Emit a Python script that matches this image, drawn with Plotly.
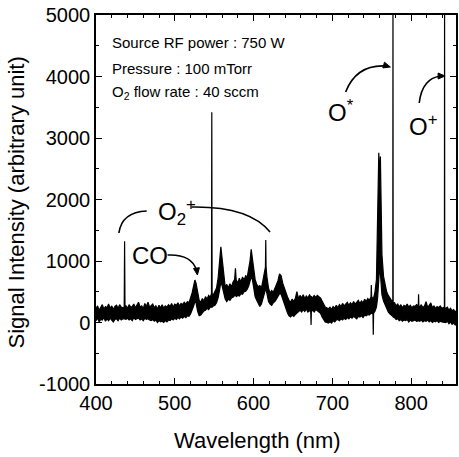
import math
import plotly.graph_objects as go

# ---- data ----
wavelength = (
    [400, 402, 404, 406, 408, 410, 412, 414, 416, 418, 420, 422, 424, 426, 428, 430, 432, 434]
    + [435.8, 436.3, 436.8]
    + [438, 440, 442, 444, 446, 448, 450, 452, 454, 456, 458, 460, 462, 464, 466, 468, 470,
       472, 474, 476, 478, 480, 482, 484, 486, 488, 490, 492, 494, 496, 498, 500, 502, 504,
       506, 508, 510, 512, 514, 516, 518, 520]
    + [522, 524, 525.5, 527, 529, 531, 533, 535, 537, 539, 541, 543, 545, 546.6, 547, 547.4,
       549, 551, 553, 555, 557, 558.5, 560, 562, 564, 566, 568, 570, 572, 574, 576, 577, 578,
       580, 582, 584, 586, 588, 590, 592, 594, 595.5, 597, 598.5, 600, 602, 604, 606, 608,
       610, 612, 614, 615.1, 615.5, 615.9, 617, 619, 621, 623, 625, 627, 629, 631, 633, 635,
       637, 639, 641, 643, 645, 647, 649, 651, 653, 655, 657, 659, 661, 663, 665, 667, 669,
       671, 672.6, 673, 673.4, 675, 677, 679, 681, 683, 685, 687, 689, 691, 693, 695, 697,
       699]
    + [701, 703, 705, 707, 709, 711, 713, 715, 717, 719, 721, 723, 725, 727, 729, 731, 733,
       735, 737, 739, 741, 743, 745, 747]
    + [749.1, 749.5, 749.9, 751, 751.6, 752, 752.4, 754, 756, 757.5, 759, 760, 761, 762, 763,
       765, 767, 769, 771, 773, 775, 776.8, 777.0, 777.2]
    + [779, 781, 783, 785, 787, 789, 791, 793, 795, 797, 799, 801, 803, 805, 807]
    + [809.1, 809.5, 809.9]
    + [811, 813, 815, 817, 819, 821, 823, 825, 827, 829, 831, 833, 835, 837, 839, 841]
    + [842.3, 842.5, 842.7]
    + [844, 846, 848, 850, 852, 854, 856, 857]
)

signal_upper = (
    [230, 270, 200, 250, 290, 220, 260, 240, 300, 230, 270, 210, 260, 280, 230, 290, 250, 240]
    + [250, 1320, 260]
    + [270, 230, 290, 250, 260, 300, 240, 280, 330, 250, 270, 230, 310, 260, 330, 250, 280,
       300, 240, 270, 220, 280, 240, 290, 230, 270, 250, 290, 260, 310, 250, 300, 280, 320,
       270, 310, 290, 330, 300, 340, 320, 390]
    + [480, 600, 690, 640, 480, 360, 330, 390, 350, 420, 380, 440, 410, 470, 3420, 470,
       450, 520, 560, 720, 1000, 1230, 1050, 760, 580, 620, 560, 630, 580, 660, 700, 880, 690,
       640, 720, 660, 740, 690, 760, 740, 860, 1000, 1190, 1050, 850, 700, 620, 580, 600,
       560, 690, 850, 900, 1340, 900, 740, 560, 480, 520, 490, 560, 610, 680, 790, 760,
       640, 560, 470, 420, 360, 330, 380, 340, 390, 500, 390, 440, 400, 450, 390, 430, 400,
       450, 420, 420, 420, 400, 440, 410, 440, 420, 400, 350, 290, 250, 240, 220, 250,
       210]
    + [260, 230, 280, 240, 290, 260, 310, 270, 300, 330, 280, 320, 290, 340, 300, 330, 360,
       310, 350, 320, 380, 340, 390, 360]
    + [420, 610, 420, 400, 390, 390, 400, 480, 700, 1500, 2760, 2300, 2700, 1900, 1100,
       750, 600, 500, 440, 390, 360, 350, 5600, 330]
    + [320, 270, 300, 250, 290, 240, 280, 260, 300, 250, 280, 240, 270, 260, 290]
    + [270, 460, 270]
    + [250, 290, 240, 270, 340, 250, 280, 320, 240, 270, 230, 260, 240, 270, 230, 250]
    + [250, 5600, 240]
    + [230, 250, 200, 230, 190, 210, 170, 190]
)

signal_lower = (
    [30, 70, 10, 50, 40, 80, 20, 60, 30, 70, 40, 10, 50, 60, 30, 70, 40, 60]
    + [60, 60, 60]
    + [50, 70, 40, 60, 30, 80, 50, 60, 70, 40, 60, 30, 70, 50, 60, 40, 30, 50, 20, 40, 0,
       30, 10, 20, 0, 30, 10, 40, 30, 60, 40, 70, 50, 80, 60, 90, 70, 100, 80, 110, 100, 140]
    + [200, 270, 340, 320, 180, 110, 120, 160, 190, 200, 230, 210, 250, 250, 250, 250,
       270, 280, 320, 400, 540, 660, 600, 460, 380, 340, 380, 360, 400, 410, 430, 450, 420,
       440, 430, 470, 460, 500, 510, 540, 600, 680, 740, 700, 560, 420, 360, 300, 260,
       300, 380, 500, 540, 550, 540, 470, 340, 300, 280, 320, 340, 380, 430, 470, 460,
       380, 300, 220, 160, 110, 90, 120, 100, 130, 150, 170, 200, 170, 210, 180, 220, 170,
       190, 180, -40, 180, 200, 170, 210, 190, 180, 150, 90, 40, 10, 0, -10, 10,
       -10]
    + [30, 10, 40, 50, 30, 60, 40, 70, 50, 80, 60, 90, 70, 100, 80, 60, 100, 90, 110, 80,
       120, 110, 130, 120]
    + [150, 150, 150, 140, 140, -200, 150, 180, 250, 400, 700, 900, 800, 600, 450, 350,
       280, 220, 170, 140, 110, 100, 100, 90]
    + [80, 50, 60, 30, 50, 20, 40, 30, 50, 10, 40, 20, 30, 40, 20]
    + [30, 30, 30]
    + [20, 40, 10, 30, 20, 40, 10, 30, 0, 20, 10, 30, 0, 20, 10, 10]
    + [10, 10, 10]
    + [0, 20, -20, 10, -30, -10, -40, -20]
)

assert len(wavelength) == len(signal_upper) == len(signal_lower), (
    len(wavelength), len(signal_upper), len(signal_lower))

x_ticks = [400, 500, 600, 700, 800]
y_ticks = [-1000, 0, 1000, 2000, 3000, 4000, 5000]

FONT = "Liberation Sans, Arial, Helvetica, sans-serif"

# plot area in pixels (for placing annotations)
L, R, T, B = 96, 458, 15, 384


def px(x, y):
    return (x - L) / (R - L), (B - y) / (B - T)


fig = go.Figure()
fig.add_trace(go.Scatter(x=wavelength, y=signal_lower, mode="lines",
                         line=dict(color="black", width=1.2), showlegend=False))
fig.add_trace(go.Scatter(x=wavelength, y=signal_upper, mode="lines", fill="tonexty",
                         fillcolor="black", line=dict(color="black", width=1.2),
                         showlegend=False))

axis_common = dict(showgrid=False, zeroline=False, showline=True, linecolor="black",
                   linewidth=1.5, ticks="inside", ticklen=6, tickwidth=1.3,
                   tickcolor="black", mirror="ticks",
                   tickfont=dict(family=FONT, size=20, color="black"))

fig.update_xaxes(range=[400, 857], tickvals=x_ticks, ticktext=[str(v) for v in x_ticks],
                 minor=dict(dtick=20, ticks="inside", ticklen=3, tickwidth=1.2,
                            tickcolor="black"),
                 **axis_common)
fig.update_yaxes(range=[-1000, 5000], tickvals=y_ticks, ticktext=[str(v) for v in y_ticks],
                 minor=dict(dtick=500, ticks="inside", ticklen=3, tickwidth=1.2,
                            tickcolor="black"),
                 **axis_common)

ann = []


def text(x, y, s, size, xanchor="left", angle=0):
    xp, yp = px(x, y)
    ann.append(dict(x=xp, y=yp, xref="paper", yref="paper", text=s, showarrow=False,
                    xanchor=xanchor, yanchor="middle", textangle=angle,
                    font=dict(family=FONT, size=size, color="black")))


text(110, 43, "Source RF power : 750 W", 15)
text(110, 68, "Pressure : 100 mTorr", 15)
text(110, 92, "O<sub>2</sub> flow rate : 40 sccm", 15)
text(258, 440, "Wavelength (nm)", 22, xanchor="center")
text(16, 202, "Signal Intensity (arbitrary unit)", 22, xanchor="center", angle=-90)
text(130, 255, "CO", 24)
text(156, 212, "O<sub>2</sub><sup>+</sup>", 24)
text(327, 111, "O<sup>*</sup>", 24)
text(409, 125, "O<sup>+</sup>", 24)

shapes = []


def curve(p0, c, p1):
    a, b, d = px(*p0), px(*c), px(*p1)
    shapes.append(dict(type="path", xref="paper", yref="paper",
                       path=f"M {a[0]},{a[1]} Q {b[0]},{b[1]} {d[0]},{d[1]}",
                       line=dict(color="black", width=1.6)))


def head(tip, frm, length=7, half=3):
    dx, dy = tip[0] - frm[0], tip[1] - frm[1]
    n = math.hypot(dx, dy)
    ux, uy = dx / n, dy / n
    bx, by = tip[0] - ux * length, tip[1] - uy * length
    p1 = (bx - uy * half, by + ux * half)
    p2 = (bx + uy * half, by - ux * half)
    pts = [px(*tip), px(*p1), px(*p2)]
    path = "M " + " L ".join(f"{a},{b}" for a, b in pts) + " Z"
    shapes.append(dict(type="path", xref="paper", yref="paper", path=path,
                       fillcolor="black", line=dict(color="black", width=1)))


curve((119, 233), (122, 212), (147, 211))        # O2+ left bracket
curve((192, 207), (250, 206), (271, 232))        # O2+ right bracket
curve((168, 255), (192, 254), (197, 270))        # CO arrow
curve((347, 92), (358, 64), (388, 66))           # O* arrow
curve((421, 103), (424, 78), (443, 76))          # O+ arrow

head((198, 275), (197, 268))
head((392, 67), (385, 65))
head((447, 76), (440, 76))

fig.update_layout(width=459, height=457, margin=dict(l=L, r=459 - R, t=T, b=457 - B),
                  paper_bgcolor="white", plot_bgcolor="white", showlegend=False,
                  annotations=ann, shapes=shapes)

fig.write_html("out.html", config={"displayModeBar": False},
               post_script="document.body.style.margin='0';document.body.style.overflow='hidden';")
